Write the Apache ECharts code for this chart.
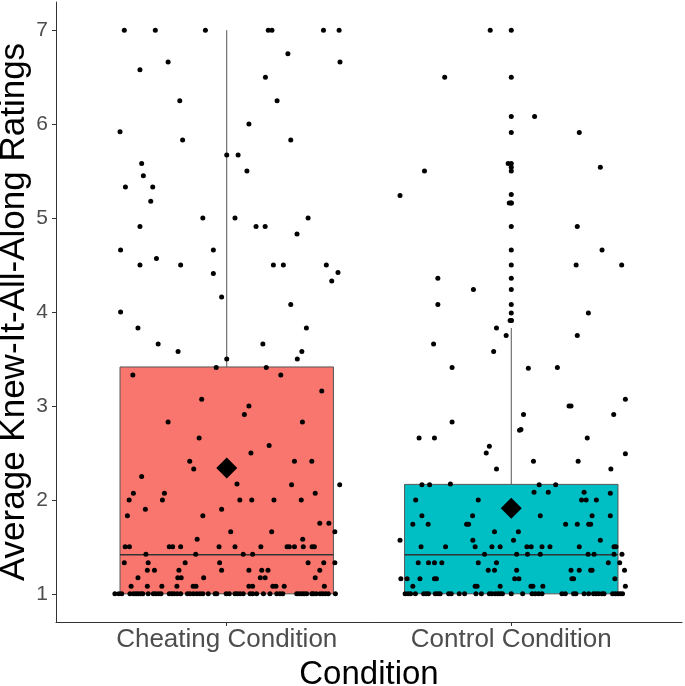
<!DOCTYPE html>
<html>
<head>
<meta charset="utf-8">
<script src="https://cdn.jsdelivr.net/npm/echarts@6/dist/echarts.min.js"></script>
<style>
html,body{margin:0;padding:0;background:#fff;}
#chart{width:685px;height:686px;}
</style>
</head>
<body>
<div id="chart"></div>
<script>
// ---------- data ----------
const categories = ['Cheating Condition', 'Control Condition'];
const yTicks = [1, 2, 3, 4, 5, 6, 7];
const boxMin = [1, 1];
const boxQ1 = [1, 1];
const boxMedian = [1.415, 1.415];
const boxQ3 = [3.415, 2.165];
const boxMax = [7, 3.83];
const means = [2.34, 1.91];
const boxColors = ['#F8766D', '#00BFC4'];
const controlOutliers = [7, 6.5, 6.08, 5.91, 5.58, 5.54, 5.5, 5.25, 5.16, 5.16, 4.91, 4.66, 4.5, 4.36, 4.24, 4.08, 3.99, 3.91, 3.91];

const cheatingPoints = [
  [0.640,7],[0.749,7],[0.925,7],[1.146,7],[1.159,7],[1.340,7],[1.395,7],
  [1.215,6.75],[0.794,6.66],[1.398,6.66],[0.695,6.58],[1.136,6.5],[0.835,6.25],[1.177,6.25],
  [1.078,6.0],[0.625,5.92],[0.845,5.83],[1.225,5.83],[1.0,5.67],[1.040,5.67],[0.701,5.58],
  [1.071,5.5],[0.707,5.45],[0.644,5.33],[0.740,5.33],[0.733,5.18],[0.916,5.0],[1.029,5.0],
  [1.286,5.0],[0.695,4.91],[1.103,4.91],[1.135,4.91],[1.247,4.83],[0.627,4.66],[0.953,4.66],
  [0.753,4.57],[0.695,4.5],[0.838,4.5],[1.164,4.5],[1.199,4.5],[1.350,4.5],[1.391,4.42],
  [0.953,4.41],[1.369,4.33],[0.982,4.16],[1.225,4.08],[0.627,4.0],[0.688,3.83],[1.280,3.83],
  [0.759,3.66],[1.127,3.66],[0.829,3.58],[1.264,3.58],[1.0,3.5],[1.248,3.5],[0.963,3.41],
  [1.139,3.41],[0.670,3.33],[1.190,3.33],[1.334,3.16],[0.912,3.07],[1.078,3.0],[1.062,2.91],
  [0.794,2.83],[1.266,2.83],[0.903,2.66],[1.149,2.58],[1.085,2.5],[0.870,2.41],[1.238,2.41],
  [1.299,2.41],[0.884,2.33],[0.701,2.25],[1.036,2.17],[1.228,2.16],[1.397,2.16],
  [0.672,2.07],[0.781,2.07],[1.311,2.07],
  [0.657,2.0],[0.774,2.0],[1.046,2.0],[1.088,2.0],[1.166,2.0],[1.262,2.0],
  [0.714,1.9],[0.982,1.9],[0.651,1.83],[0.916,1.83],[1.327,1.75],[1.359,1.75],
  [1.014,1.66],[1.158,1.66],[1.380,1.66],[0.896,1.58],[1.267,1.58],
  [0.643,1.5],[0.658,1.5],[0.798,1.5],[0.810,1.5],[0.838,1.5],[0.973,1.5],[1.029,1.5],
  [1.120,1.5],[1.212,1.5],[1.220,1.5],[1.238,1.5],[1.269,1.5],[1.300,1.5],[1.308,1.5],
  [0.716,1.42],[0.891,1.42],[1.058,1.42],[1.091,1.42],
  [0.640,1.33],[0.724,1.33],[0.854,1.33],[0.975,1.33],[1.286,1.33],[1.341,1.33],[1.380,1.33],
  [0.721,1.25],[0.746,1.25],[0.832,1.25],[0.982,1.25],[1.078,1.25],[1.123,1.25],[1.145,1.25],[1.327,1.25],
  [0.688,1.17],[0.828,1.17],[0.840,1.17],[0.919,1.17],[1.118,1.17],[1.135,1.17],[1.311,1.17],
  [0.664,1.08],[0.721,1.08],[0.772,1.08],[0.825,1.08],[0.882,1.08],[0.892,1.08],[1.078,1.08],
  [1.091,1.08],[1.162,1.08],[1.173,1.08],[1.202,1.08],[1.343,1.08],
  [0.607,1],[0.621,1],[0.631,1],[0.660,1],[0.672,1],[0.681,1],[0.689,1],[0.698,1],[0.705,1],
  [0.724,1],[0.742,1],[0.750,1],[0.760,1],[0.769,1],[0.798,1],[0.807,1],[0.815,1],[0.826,1],
  [0.838,1],[0.862,1],[0.871,1],[0.883,1],[0.895,1],[0.906,1],[0.916,1],[0.935,1],[0.959,1],
  [0.965,1],[0.998,1],[1.009,1],[1.029,1],[1.037,1],[1.047,1],[1.058,1],[1.082,1],[1.091,1],
  [1.105,1],[1.129,1],[1.152,1],[1.176,1],[1.187,1],[1.197,1],[1.246,1],[1.255,1],[1.264,1],
  [1.272,1],[1.281,1],[1.299,1],[1.304,1],[1.314,1],[1.328,1],[1.337,1],[1.347,1],[1.357,1],[1.382,1]
];

const controlPoints = [
  [1.926,7],[1.766,6.5],[2.082,6.08],[2.239,5.91],[1.989,5.58],[2.313,5.54],[1.695,5.5],
  [1.609,5.24],[1.993,5.16],[2.232,4.91],[2.319,4.66],[2.228,4.5],[2.388,4.5],[1.742,4.36],
  [1.867,4.24],[1.742,4.08],[2.271,3.99],[1.996,3.91],
  [1.948,3.83],[1.982,3.75],[2.232,3.75],[1.727,3.66],[1.938,3.58],[1.792,3.41],[2.060,3.40],
  [2.162,3.41],[2.401,3.07],[2.203,3.0],[2.210,3.0],[2.043,2.91],[2.360,2.91],[1.792,2.83],
  [2.029,2.74],[2.034,2.75],[1.676,2.66],[1.730,2.66],[2.267,2.66],[1.923,2.57],[1.912,2.5],
  [2.401,2.49],[2.078,2.41],[2.235,2.41],[1.948,2.33],[2.350,2.33],
  [1.686,2.16],[1.713,2.16],[1.786,2.17],[2.098,2.16],[2.156,2.16],
  [2.080,2.08],[2.130,2.08],[2.256,2.08],[2.348,2.07],
  [1.664,2.0],[1.884,2.0],[2.247,2.0],[2.263,2.0],[2.299,2.0],
  [1.686,1.83],[1.864,1.83],[2.102,1.83],[2.284,1.83],[2.348,1.83],
  [1.654,1.74],[1.708,1.74],[1.843,1.74],[1.850,1.74],[2.191,1.74],[2.232,1.74],[2.272,1.74],[2.279,1.74],
  [1.941,1.66],[2.025,1.66],
  [1.609,1.57],[1.865,1.57],[2.008,1.57],[2.313,1.57],
  [1.683,1.5],[1.769,1.5],[1.873,1.5],[1.932,1.5],[1.961,1.5],[2.055,1.5],[2.070,1.5],
  [2.108,1.5],[2.136,1.5],[2.239,1.5],[2.361,1.5],[2.368,1.5],
  [1.906,1.42],[2.019,1.42],[2.057,1.42],[2.102,1.42],[2.270,1.42],[2.291,1.42],[2.361,1.42],[2.389,1.42],
  [1.673,1.33],[1.709,1.33],[1.730,1.33],[1.756,1.33],[1.884,1.33],[1.948,1.33],[2.341,1.33],[2.381,1.33],
  [1.919,1.25],[1.941,1.25],[2.019,1.25],[2.210,1.25],[2.239,1.25],[2.279,1.25],[2.284,1.25],[2.398,1.25],
  [1.612,1.16],[1.634,1.16],[1.679,1.16],[1.730,1.16],[1.737,1.16],[2.012,1.16],[2.027,1.16],
  [2.213,1.16],[2.219,1.16],[2.364,1.16],
  [1.654,1.08],[1.873,1.08],[1.880,1.08],[1.961,1.08],[2.069,1.08],[2.076,1.08],[2.111,1.08],[2.401,1.08],
  [1.627,1],[1.637,1],[1.646,1],[1.663,1],[1.692,1],[1.701,1],[1.709,1],[1.733,1],[1.742,1],
  [1.750,1],[1.780,1],[1.789,1],[1.817,1],[1.836,1],[1.876,1],[1.895,1],[1.923,1],[1.932,1],
  [1.944,1],[1.953,1],[1.961,1],[1.969,1],[2.0,1],[2.040,1],[2.073,1],[2.084,1],[2.096,1],
  [2.108,1],[2.178,1],[2.190,1],[2.219,1],[2.227,1],[2.256,1],[2.272,1],[2.289,1],[2.298,1],
  [2.307,1],[2.319,1],[2.326,1],[2.356,1],[2.366,1],[2.375,1],[2.383,1],[2.391,1]
];

// ---------- build options ----------
const boxData = categories.map((c, i) => [i + 1, boxMin[i], boxQ1[i], boxMedian[i], boxQ3[i], boxMax[i]]);
const meanData = categories.map((c, i) => [i + 1, means[i]]);
const outlierData = controlOutliers.map(v => [2, v]);
const BOX_HALF = 0.375;
const FONT = 'Liberation Sans, Arial, sans-serif';

const chart = echarts.init(document.getElementById('chart'));
chart.setOption({
  backgroundColor: '#ffffff',
  animation: false,
  grid: { left: 56, right: 3, top: 2, bottom: 64, containLabel: false, outerBoundsMode: 'none' },
  xAxis: {
    type: 'value', min: 0.4, max: 2.6,
    name: 'Condition', nameLocation: 'middle', nameGap: 36, nameMoveOverlap: false,
    nameTextStyle: { fontSize: 33, color: '#000', fontFamily: FONT },
    axisLine: { show: true, lineStyle: { color: '#333', width: 1 } },
    axisTick: { show: true, length: 4, customValues: [1, 2], lineStyle: { color: '#333' } },
    axisLabel: {
      customValues: [1, 2], margin: 5, fontSize: 26, color: '#4D4D4D', fontFamily: FONT,
      formatter: v => categories[Math.round(v) - 1] || ''
    },
    splitLine: { show: false }
  },
  yAxis: {
    type: 'value', min: 0.7, max: 7.3,
    name: 'Average Knew-It-All-Along Ratings', nameLocation: 'middle', nameGap: 24, nameMoveOverlap: false,
    nameTextStyle: { fontSize: 35, color: '#000', fontFamily: FONT },
    axisLine: { show: true, lineStyle: { color: '#333', width: 1 } },
    axisTick: { show: true, length: 4, customValues: yTicks, lineStyle: { color: '#333' } },
    axisLabel: { customValues: yTicks, margin: 8, fontSize: 21, color: '#4D4D4D', fontFamily: FONT },
    splitLine: { show: false }
  },
  series: [
    {
      type: 'custom', z: 1, data: boxData,
      renderItem: function (params, api) {
        const x = api.value(0), lo = api.value(1), q1 = api.value(2), med = api.value(3), q3 = api.value(4), hi = api.value(5);
        const tl = api.coord([x - BOX_HALF, q3]);
        const br = api.coord([x + BOX_HALF, q1]);
        const pHi = api.coord([x, hi]), pQ3 = api.coord([x, q3]);
        const pQ1 = api.coord([x, q1]), pLo = api.coord([x, lo]);
        const mL = api.coord([x - BOX_HALF, med]), mR = api.coord([x + BOX_HALF, med]);
        return {
          type: 'group',
          children: [
            { type: 'line', shape: { x1: pHi[0], y1: pHi[1], x2: pQ3[0], y2: pQ3[1] }, style: { stroke: '#555', lineWidth: 1 } },
            { type: 'line', shape: { x1: pQ1[0], y1: pQ1[1], x2: pLo[0], y2: pLo[1] }, style: { stroke: '#555', lineWidth: 1 } },
            { type: 'rect', shape: { x: tl[0], y: tl[1], width: br[0] - tl[0], height: br[1] - tl[1] },
              style: { fill: boxColors[params.dataIndex], stroke: '#555', lineWidth: 1 } },
            { type: 'line', shape: { x1: mL[0], y1: mL[1], x2: mR[0], y2: mR[1] }, style: { stroke: '#333', lineWidth: 1.5 } }
          ]
        };
      }
    },
    { type: 'scatter', z: 2, data: outlierData, symbol: 'circle', symbolSize: 5, itemStyle: { color: '#000', opacity: 1 } },
    { type: 'scatter', z: 3, data: cheatingPoints, symbol: 'circle', symbolSize: 5, itemStyle: { color: '#000', opacity: 1 } },
    { type: 'scatter', z: 3, data: controlPoints, symbol: 'circle', symbolSize: 5, itemStyle: { color: '#000', opacity: 1 } },
    { type: 'scatter', z: 4, data: meanData, symbol: 'diamond', symbolSize: [21, 21], itemStyle: { color: '#000', opacity: 1 } }
  ]
});
</script>
</body>
</html>
